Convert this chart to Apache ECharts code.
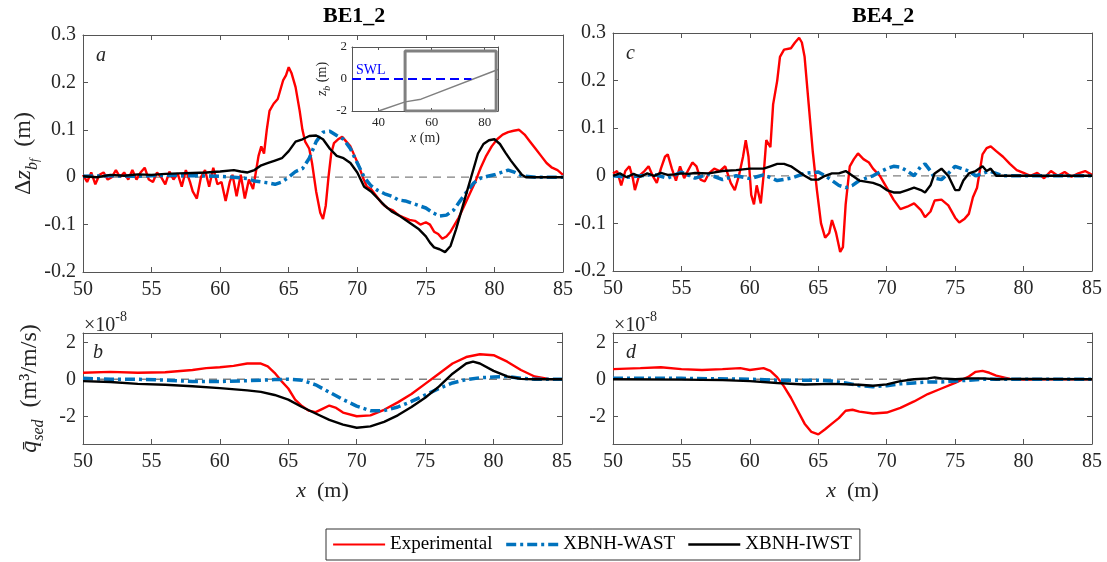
<!DOCTYPE html>
<html><head><meta charset="utf-8">
<script src="https://cdn.jsdelivr.net/npm/echarts@6/dist/echarts.min.js"></script>
<style>html,body{margin:0;padding:0;background:#fff}#c{width:1107px;height:562px}</style>
</head><body><div id="c"></div>
<script>
// ---------- data ----------
const xTicks = [50, 55, 60, 65, 70, 75, 80, 85];
const dzTicks = [-0.2, -0.1, 0, 0.1, 0.2, 0.3];
const qTicks = [-2, 0, 2];
const insetXTicks = [40, 60, 80];
const insetYTicks = [-2, 0, 2];
const seriesNames = ['Experimental', 'XBNH-WAST', 'XBNH-IWST'];
const zeroLine = [[50, 0], [85, 0]];

// Panel a (BE1_2, bed change, m)
const aExp = [[50,0.005],[50.3,-0.01],[50.6,0.01],[50.9,-0.015],[51.2,0.005],[51.5,0.01],[51.8,-0.005],[52.1,0.0],[52.4,0.015],[52.7,0.0],[53.0,0.01],[53.3,-0.005],[53.6,0.015],[53.9,-0.005],[54.2,0.01],[54.5,0.02],[54.8,-0.005],[55.1,-0.01],[55.4,0.01],[55.7,0.0],[56.0,-0.015],[56.3,0.012],[56.6,-0.005],[56.9,0.008],[57.2,-0.02],[57.5,0.015],[57.8,-0.01],[58.0,-0.03],[58.3,-0.045],[58.6,0.0],[58.9,0.015],[59.2,-0.02],[59.5,0.02],[59.8,-0.015],[60.1,-0.01],[60.4,-0.05],[60.7,-0.01],[60.9,0.005],[61.2,-0.04],[61.5,0.005],[61.8,-0.045],[62.1,-0.005],[62.4,-0.025],[62.6,0.01],[62.8,0.045],[63.0,0.065],[63.2,0.05],[63.4,0.1],[63.6,0.14],[63.9,0.155],[64.2,0.165],[64.4,0.185],[64.6,0.205],[64.8,0.215],[65.0,0.232],[65.2,0.22],[65.5,0.19],[65.8,0.14],[66.0,0.1],[66.2,0.075],[66.5,0.06],[66.7,0.03],[67.0,-0.03],[67.3,-0.075],[67.5,-0.088],[67.7,-0.06],[67.9,0.0],[68.1,0.05],[68.3,0.072],[68.6,0.08],[68.9,0.085],[69.2,0.075],[69.5,0.065],[69.8,0.045],[70.1,0.025],[70.4,0.0],[70.7,-0.02],[71.0,-0.025],[71.4,-0.04],[71.8,-0.055],[72.2,-0.065],[72.6,-0.07],[73.0,-0.08],[73.4,-0.085],[73.8,-0.09],[74.2,-0.092],[74.6,-0.1],[75.0,-0.095],[75.3,-0.1],[75.6,-0.115],[75.9,-0.12],[76.2,-0.13],[76.5,-0.125],[76.8,-0.115],[77.1,-0.1],[77.4,-0.085],[77.8,-0.06],[78.2,-0.035],[78.6,-0.01],[79.0,0.02],[79.4,0.045],[79.8,0.065],[80.2,0.08],[80.6,0.09],[81.0,0.095],[81.4,0.098],[81.8,0.1],[82.2,0.09],[82.6,0.075],[83.0,0.06],[83.4,0.045],[83.8,0.03],[84.2,0.02],[84.6,0.015],[85.0,0.005]];
const aWast = [[50,0.002],[52,0.003],[54,0.002],[56,0.004],[58,0.003],[60,0.002],[61,0.0],[62,-0.003],[62.5,-0.008],[63,-0.01],[63.5,-0.012],[64,-0.015],[64.5,-0.01],[65,0.0],[65.5,0.012],[66,0.018],[66.5,0.04],[67,0.075],[67.5,0.095],[68,0.097],[68.5,0.088],[69,0.08],[69.5,0.06],[70,0.03],[70.5,0.0],[71,-0.018],[71.5,-0.028],[72,-0.035],[72.5,-0.04],[73,-0.048],[73.5,-0.05],[74,-0.055],[74.5,-0.06],[75,-0.065],[75.5,-0.075],[76,-0.082],[76.5,-0.08],[77,-0.07],[77.5,-0.05],[78,-0.03],[78.5,-0.012],[79,-0.002],[79.5,0.002],[80,0.005],[80.5,0.01],[81,0.015],[81.5,0.01],[82,0.003],[83,0.0],[85,0.0]];
const aIwst = [[50,0.002],[51,0.0],[52,0.005],[53,0.003],[54,0.006],[55,0.005],[56,0.007],[57,0.008],[58,0.009],[59,0.01],[60,0.012],[61,0.015],[61.5,0.012],[62,0.01],[62.5,0.015],[63,0.025],[63.5,0.03],[64,0.035],[64.5,0.04],[65,0.055],[65.5,0.075],[66,0.08],[66.5,0.087],[67,0.088],[67.5,0.08],[68,0.06],[68.5,0.045],[69,0.04],[69.5,0.03],[70,0.01],[70.5,-0.02],[71,-0.03],[71.5,-0.045],[72,-0.06],[72.5,-0.072],[73,-0.08],[73.5,-0.09],[74,-0.1],[74.5,-0.11],[75,-0.125],[75.3,-0.138],[75.6,-0.148],[76,-0.152],[76.4,-0.158],[76.8,-0.145],[77.2,-0.11],[77.6,-0.07],[78,-0.03],[78.4,0.01],[78.8,0.05],[79.2,0.07],[79.6,0.078],[80,0.08],[80.4,0.07],[80.8,0.052],[81.2,0.035],[81.6,0.02],[82,0.005],[82.3,0.0],[85,0.0]];

// Panel c (BE4_2, bed change, m)
const cExp = [[50,0.005],[50.3,0.01],[50.6,-0.02],[50.9,0.01],[51.2,0.02],[51.45,-0.005],[51.6,-0.03],[51.9,0.0],[52.3,0.01],[52.6,0.02],[52.9,0.0],[53.2,-0.015],[53.5,0.015],[53.8,0.04],[54.0,0.045],[54.3,0.015],[54.6,-0.01],[54.9,0.02],[55.2,-0.005],[55.5,0.012],[55.8,0.028],[56.1,0.02],[56.4,-0.008],[56.7,-0.012],[57.0,0.005],[57.4,0.015],[57.8,0.01],[58.2,0.02],[58.6,-0.015],[58.9,-0.03],[59.2,0.0],[59.5,0.04],[59.7,0.075],[59.9,0.04],[60.1,-0.04],[60.3,-0.06],[60.5,-0.02],[60.8,-0.058],[61.0,0.0],[61.2,0.075],[61.5,0.06],[61.7,0.15],[62.0,0.2],[62.2,0.25],[62.5,0.265],[63.0,0.268],[63.3,0.28],[63.6,0.29],[63.8,0.28],[64.0,0.25],[64.3,0.15],[64.6,0.05],[64.9,-0.03],[65.2,-0.1],[65.5,-0.13],[65.8,-0.12],[66.0,-0.093],[66.3,-0.12],[66.6,-0.16],[66.8,-0.15],[67.0,-0.06],[67.3,0.02],[67.6,0.035],[67.9,0.047],[68.3,0.035],[68.7,0.028],[69.0,0.015],[69.5,0.0],[70.0,-0.025],[70.5,-0.05],[71.0,-0.07],[71.5,-0.065],[72.0,-0.058],[72.5,-0.072],[72.8,-0.087],[73.2,-0.075],[73.5,-0.052],[74.0,-0.05],[74.5,-0.062],[75.0,-0.088],[75.3,-0.098],[75.7,-0.09],[76.0,-0.08],[76.3,-0.045],[76.6,-0.025],[77.0,0.045],[77.3,0.058],[77.6,0.062],[78.0,0.052],[78.5,0.04],[79.0,0.025],[79.5,0.012],[80.0,0.006],[80.5,0.0],[81.0,0.006],[81.5,-0.005],[82.0,0.01],[82.5,0.0],[83.0,0.008],[83.5,-0.002],[84.0,0.005],[84.5,0.01],[85.0,0.002]];
const cWast = [[50,0.0],[51,-0.003],[52,0.0],[53,0.003],[54,-0.005],[55,0.008],[56,-0.005],[57,0.003],[58,-0.008],[59,0.0],[60,-0.006],[61,0.002],[62,-0.01],[63,-0.005],[64,0.005],[65,0.008],[65.5,0.0],[66,-0.01],[66.5,-0.02],[67,-0.025],[67.5,-0.02],[68,-0.01],[68.5,-0.005],[69,0.0],[69.5,0.008],[70,0.015],[70.5,0.02],[71,0.018],[71.5,0.01],[72,0.0],[72.5,0.02],[72.8,0.025],[73.2,0.01],[73.5,-0.005],[74,-0.008],[74.5,0.005],[75,0.02],[75.5,0.015],[76,0.01],[76.5,0.0],[77,0.005],[77.5,0.01],[78,0.005],[78.5,0.0],[85,0.0]];
const cIwst = [[50,0.0],[50.5,0.005],[51,-0.003],[51.5,0.004],[52,-0.002],[52.5,0.005],[53,0.0],[53.5,0.006],[54,0.002],[54.5,0.003],[55,0.005],[55.5,0.004],[56,0.006],[57,0.005],[58,0.01],[59,0.012],[60,0.015],[61,0.015],[61.5,0.02],[62,0.025],[62.5,0.025],[63,0.02],[63.5,0.01],[64,0.0],[64.5,-0.008],[65,-0.008],[65.5,0.0],[66,0.005],[66.5,0.005],[67,0.01],[67.5,0.0],[68,-0.01],[69,-0.015],[69.5,-0.02],[70,-0.03],[70.5,-0.035],[71,-0.035],[71.5,-0.03],[72,-0.025],[72.5,-0.03],[72.8,-0.035],[73.2,-0.02],[73.5,0.005],[74,0.015],[74.5,0.0],[75,-0.03],[75.3,-0.03],[75.6,-0.01],[76,0.005],[76.5,0.01],[77,0.02],[77.3,0.01],[77.6,0.015],[78,0.0],[78.5,0.0],[85,0.0]];

// Panel b (BE1_2, sediment transport, x1e-8 m3/m/s)
const bExp = [[50,0.35],[52,0.4],[54,0.35],[56,0.38],[58,0.5],[59,0.6],[60,0.65],[61,0.72],[62,0.85],[63,0.85],[63.5,0.7],[64,0.35],[64.5,-0.1],[65,-0.5],[65.5,-1.1],[66,-1.45],[66.5,-1.7],[67,-1.78],[67.5,-1.6],[68,-1.42],[68.5,-1.55],[69,-1.8],[70,-2.0],[71,-1.95],[72,-1.65],[73,-1.25],[74,-0.8],[75,-0.25],[76,0.3],[77,0.85],[78,1.2],[79,1.35],[80,1.3],[81,0.95],[82,0.5],[83,0.15],[84,0.02],[85,0.0]];
const bWast = [[50,0.05],[52,0.0],[54,0.0],[56,-0.05],[58,-0.12],[60,-0.12],[62,-0.08],[63,-0.05],[64,-0.02],[65,0.0],[66,-0.05],[67,-0.3],[68,-0.7],[69,-1.1],[70,-1.45],[71,-1.7],[72,-1.7],[73,-1.5],[74,-1.2],[75,-0.85],[76,-0.5],[77,-0.2],[78,-0.02],[79,0.08],[80,0.12],[81,0.15],[82,0.05],[83,0.0],[85,0.0]];
const bIwst = [[50,-0.1],[52,-0.15],[54,-0.25],[56,-0.3],[58,-0.38],[60,-0.48],[62,-0.6],[63,-0.68],[64,-0.85],[65,-1.1],[66,-1.5],[67,-1.85],[68,-2.2],[69,-2.45],[70,-2.62],[71,-2.55],[72,-2.3],[73,-1.95],[74,-1.5],[75,-1.0],[76,-0.4],[77,0.3],[78,0.85],[78.5,0.95],[79,0.85],[80,0.45],[81,0.15],[82,0.02],[83,0.0],[85,0.0]];

// Panel d (BE4_2, sediment transport, x1e-8 m3/m/s)
const dExp = [[50,0.55],[52,0.6],[53.5,0.65],[55,0.55],[56.5,0.5],[58,0.55],[59.3,0.6],[60,0.5],[61,0.6],[61.5,0.45],[62,0.1],[62.5,-0.4],[63,-1.0],[63.5,-1.7],[64,-2.4],[64.5,-2.85],[65,-2.98],[65.5,-2.7],[66,-2.4],[66.5,-2.1],[67,-1.7],[67.5,-1.65],[68,-1.75],[69,-1.85],[70,-1.8],[71,-1.55],[72,-1.2],[73,-0.8],[74,-0.5],[75,-0.2],[76,0.15],[76.5,0.4],[77,0.45],[77.5,0.35],[78,0.2],[79,0.02],[80,-0.02],[82,0.0],[85,0.0]];
const dWast = [[50,0.05],[55,0.05],[60,0.0],[62,-0.05],[64,-0.05],[65,-0.05],[66,-0.1],[67,-0.2],[68,-0.35],[69,-0.4],[70,-0.35],[71,-0.25],[72,-0.2],[73,-0.15],[74,-0.15],[75,-0.1],[76,-0.05],[77,0.0],[78,0.0],[85,0.0]];
const dIwst = [[50,0.0],[55,-0.02],[58,-0.05],[60,-0.1],[62,-0.2],[64,-0.28],[66,-0.25],[68,-0.3],[69,-0.35],[70,-0.28],[71,-0.1],[72,0.0],[73,0.05],[73.5,0.1],[74,0.05],[75,0.0],[76,0.05],[77,0.05],[78,0.0],[80,0.02],[85,0.0]];

// Inset (bed profile)
const insetBed = [[40,-2],[50,-1.43],[56,-1.26],[85,0.59]];
const insetSWL = [[30,0],[75,0]];
const insetBox = [[50,-2],[50,1.75],[84.3,1.75],[84.3,-2],[50,-2]];

// ---------- styles ----------
const SERIF = '"Liberation Serif","DejaVu Serif",serif';
const TXT = '#262626';
const AX = '#555555';
const RED = '#ff0000', BLUE = '#0072bd', BLACK = '#000000';
const BLUE_DASH = [10, 4, 3, 4];

const grids = [
  {left: 83, top: 35, width: 480, height: 237},   // a
  {left: 83, top: 333, width: 479, height: 111},  // b
  {left: 613, top: 33, width: 479, height: 238},  // c
  {left: 613, top: 333, width: 479, height: 111}, // d
  {left: 352, top: 47, width: 146, height: 64}    // inset
];

const xAxes = [], yAxes = [];
function fmt(v){ return String(Math.round(v * 10) / 10); }
function addAxes(g, xr, yr, xt, yt, opt) {
  const fs = opt.fs || 20;
  const tickLen = opt.tickLen || 5;
  const base = {
    gridIndex: g, type: 'value', axisLine: {show: true, onZero: false, lineStyle: {color: AX, width: 1}},
    splitLine: {show: false}
  };
  xAxes.push(Object.assign({}, base, {
    min: xr[0], max: xr[1], position: 'bottom',
    axisTick: {show: true, inside: true, length: tickLen, customValues: xt, lineStyle: {color: AX}},
    axisLabel: {show: true, customValues: xt, margin: opt.xm || 8, fontFamily: SERIF, fontSize: fs, color: TXT, formatter: fmt},
    name: opt.xname || '', nameLocation: 'middle', nameGap: opt.xnameGap || 36,
    nameTextStyle: opt.xnameStyle || {}
  }));
  xAxes.push(Object.assign({}, base, {
    min: xr[0], max: xr[1], position: 'top',
    axisTick: {show: true, inside: true, length: tickLen, customValues: xt, lineStyle: {color: AX}},
    axisLabel: {show: false}
  }));
  yAxes.push(Object.assign({}, base, {
    min: yr[0], max: yr[1], position: 'left',
    axisTick: {show: true, inside: true, length: tickLen, customValues: yt, lineStyle: {color: AX}},
    axisLabel: {show: true, customValues: yt, margin: opt.ym || 7, fontFamily: SERIF, fontSize: fs, color: TXT, formatter: fmt},
    name: opt.yname || '', nameLocation: 'middle', nameRotate: 90, nameGap: opt.ynameGap || 50,
    nameTextStyle: opt.ynameStyle || {}
  }));
  yAxes.push(Object.assign({}, base, {
    min: yr[0], max: yr[1], position: 'right',
    axisTick: {show: true, inside: true, length: tickLen, customValues: yt, lineStyle: {color: AX}},
    axisLabel: {show: false}
  }));
}

const xNameStyle = {
  rich: {
    i: {fontFamily: SERIF, fontSize: 22, fontStyle: 'italic', color: TXT},
    n: {fontFamily: SERIF, fontSize: 22, color: TXT}
  }
};
const dzNameStyle = {
  rich: {
    n: {fontFamily: SERIF, fontSize: 24, color: TXT, lineHeight: 34, verticalAlign: 'middle'},
    i: {fontFamily: SERIF, fontSize: 24, fontStyle: 'italic', color: TXT, lineHeight: 34, verticalAlign: 'middle'},
    s: {fontFamily: SERIF, fontSize: 16, fontStyle: 'italic', color: TXT, lineHeight: 16, verticalAlign: 'bottom'},
    ss: {fontFamily: SERIF, fontSize: 12, fontStyle: 'italic', color: TXT, lineHeight: 9, verticalAlign: 'bottom'}
  }
};
const qNameStyle = {
  rich: {
    n: {fontFamily: SERIF, fontSize: 24, color: TXT, lineHeight: 34, verticalAlign: 'middle'},
    i: {fontFamily: SERIF, fontSize: 24, fontStyle: 'italic', color: TXT, lineHeight: 34, verticalAlign: 'middle'},
    s: {fontFamily: SERIF, fontSize: 16, fontStyle: 'italic', color: TXT, lineHeight: 16, verticalAlign: 'bottom'}
  }
};
const insetXNameStyle = {
  rich: {
    i: {fontFamily: SERIF, fontSize: 14, fontStyle: 'italic', color: TXT},
    n: {fontFamily: SERIF, fontSize: 14, color: TXT}
  }
};
const insetYNameStyle = {
  rich: {
    i: {fontFamily: SERIF, fontSize: 14, fontStyle: 'italic', color: TXT, lineHeight: 20, verticalAlign: 'middle'},
    s: {fontFamily: SERIF, fontSize: 10, fontStyle: 'italic', color: TXT, lineHeight: 10, verticalAlign: 'bottom'},
    n: {fontFamily: SERIF, fontSize: 14, color: TXT, lineHeight: 20, verticalAlign: 'middle'}
  }
};

// a
addAxes(0, [50, 85], [-0.2, 0.3], xTicks, dzTicks, {
  yname: '{n|Δ}{i|z}{s|b}{ss|f}{n|  (m)}', ynameGap: 40, ynameStyle: dzNameStyle
});
// b
addAxes(1, [50, 85], [-3.5, 2.5], xTicks, qTicks, {
  xname: '{i|x}{n|  (m)}', xnameGap: 36, xnameStyle: xNameStyle,
  yname: '{i|q̄}{s|sed}{n|  (m³/m/s)}', ynameGap: 36, ynameStyle: qNameStyle
});
// c
addAxes(2, [50, 85], [-0.2, 0.3], xTicks, dzTicks, {});
// d
addAxes(3, [50, 85], [-3.5, 2.5], xTicks, qTicks, {
  xname: '{i|x}{n|  (m)}', xnameGap: 36, xnameStyle: xNameStyle
});
// inset
addAxes(4, [30, 85], [-2, 2], insetXTicks, insetYTicks, {
  fs: 13, tickLen: 3, xm: 5, ym: 5,
  xname: '{i|x}{n| (m)}', xnameGap: 20, xnameStyle: insetXNameStyle,
  yname: '{i|z}{s|b}{n| (m)}', ynameGap: 18, ynameStyle: insetYNameStyle
});

const series = [];
function addPanel(g, exp, wast, iwst) {
  const xi = g * 2, yi = g * 2;
  series.push({type: 'line', xAxisIndex: xi, yAxisIndex: yi, data: zeroLine, symbol: 'none', silent: true,
    lineStyle: {color: '#808080', width: 1.3, type: [8, 6]}, z: 1});
  series.push({name: seriesNames[0], type: 'line', xAxisIndex: xi, yAxisIndex: yi, data: exp, symbol: 'none',
    lineStyle: {color: RED, width: 2.4}, itemStyle: {color: RED}, z: 2});
  series.push({name: seriesNames[1], type: 'line', xAxisIndex: xi, yAxisIndex: yi, data: wast, symbol: 'none',
    lineStyle: {color: BLUE, width: 3.5, type: BLUE_DASH}, itemStyle: {color: BLUE}, z: 3});
  series.push({name: seriesNames[2], type: 'line', xAxisIndex: xi, yAxisIndex: yi, data: iwst, symbol: 'none',
    lineStyle: {color: BLACK, width: 2.4}, itemStyle: {color: BLACK}, z: 4});
}
addPanel(0, aExp, aWast, aIwst);
addPanel(1, bExp, bWast, bIwst);
addPanel(2, cExp, cWast, cIwst);
addPanel(3, dExp, dWast, dIwst);
// inset series
series.push({type: 'line', xAxisIndex: 8, yAxisIndex: 8, data: insetBox, symbol: 'none', silent: true,
  lineStyle: {color: '#808080', width: 3}, z: 5});
series.push({type: 'line', xAxisIndex: 8, yAxisIndex: 8, data: insetBed, symbol: 'none', silent: true,
  lineStyle: {color: '#808080', width: 1.5}, z: 6});
series.push({type: 'line', xAxisIndex: 8, yAxisIndex: 8, data: insetSWL, symbol: 'none', silent: true,
  lineStyle: {color: '#0000ff', width: 1.8, type: [9, 5]}, z: 7});

const supRich = {
  n: {fontFamily: SERIF, fontSize: 20, fill: TXT, lineHeight: 26, verticalAlign: 'bottom'},
  s: {fontFamily: SERIF, fontSize: 14, fill: TXT, lineHeight: 26, verticalAlign: 'top'}
};
const graphic = [
  {type: 'text', left: 323, top: 5, style: {text: 'BE1_2', font: 'bold 22px ' + SERIF, fill: '#000', textAlign: 'center'}},
  {type: 'text', left: 852, top: 5, style: {text: 'BE4_2', font: 'bold 22px ' + SERIF, fill: '#000', textAlign: 'center'}},
  {type: 'text', x: 96, y: 46, style: {text: 'a', font: 'italic 20px ' + SERIF, fill: TXT}},
  {type: 'text', x: 93, y: 343, style: {text: 'b', font: 'italic 20px ' + SERIF, fill: TXT}},
  {type: 'text', x: 626, y: 44, style: {text: 'c', font: 'italic 20px ' + SERIF, fill: TXT}},
  {type: 'text', x: 626, y: 343, style: {text: 'd', font: 'italic 20px ' + SERIF, fill: TXT}},
  {type: 'text', x: 356, y: 63, style: {text: 'SWL', font: '14px ' + SERIF, fill: '#0000ff'}},
  {type: 'text', x: 84, y: 310, style: {text: '{n|×10}{s|-8}', rich: supRich}},
  {type: 'text', x: 614, y: 310, style: {text: '{n|×10}{s|-8}', rich: supRich}}
];

const chart = echarts.init(document.getElementById('c'), null, {renderer: 'canvas'});
chart.setOption({
  animation: false,
  backgroundColor: '#fff',
  grid: grids.map(g => Object.assign({containLabel: false}, g)),
  xAxis: xAxes,
  yAxis: yAxes,
  legend: {
    data: [
      {name: seriesNames[0], lineStyle: {color: RED, width: 2.2}},
      {name: seriesNames[1], lineStyle: {color: BLUE, width: 3.5, type: BLUE_DASH}},
      {name: seriesNames[2], lineStyle: {color: BLACK, width: 2.4}}
    ],
    left: 326, top: 529, orient: 'horizontal',
    itemWidth: 52, itemHeight: 14, itemGap: 12, padding: [6, 8, 6, 6],
    borderColor: '#333', borderWidth: 1,
    itemStyle: {opacity: 0},
    textStyle: {fontFamily: SERIF, fontSize: 19, color: '#000'},
    selectedMode: false
  },
  graphic: graphic,
  series: series
});
</script></body></html>
